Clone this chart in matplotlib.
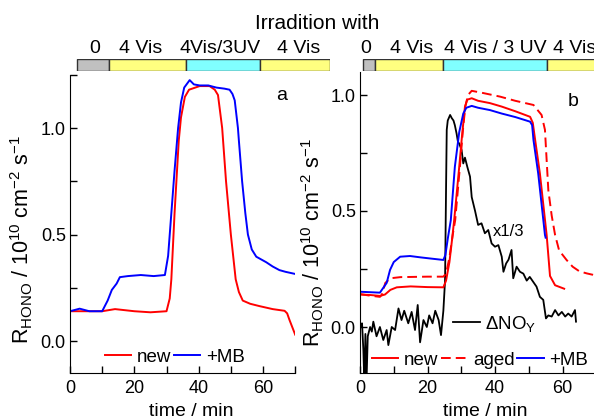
import matplotlib
matplotlib.use('Agg')
import matplotlib.pyplot as plt

plt.rcParams['font.family'] = ['Liberation Sans', 'DejaVu Sans']
plt.rcParams['mathtext.fontset'] = 'custom'
plt.rcParams['mathtext.rm'] = 'Liberation Sans'
plt.rcParams['mathtext.it'] = 'Liberation Sans:italic'

# panel a: HONO formation, new film vs +MB
a_new_t = [0, 5, 10, 14, 20, 25, 30, 31, 31.5, 32.5, 33.8, 34.5, 35.7, 37, 40.3, 43.4, 45, 46,
           47.3, 48.5, 50, 51.5, 52.5, 53.7, 56, 58.9, 63, 66.7, 67.5, 68.2, 70]
a_new_v = [0.14, 0.14, 0.14, 0.15, 0.14, 0.135, 0.14, 0.2, 0.29, 0.6, 0.94, 1.05, 1.146, 1.18, 1.197,
           1.197, 1.18, 1.155, 1.0, 0.75, 0.5, 0.29, 0.23, 0.19, 0.175, 0.164, 0.15, 0.142, 0.13, 0.1, 0.03]
a_mb_t = [0, 3, 6, 10, 11.7, 13, 14.5, 15.5, 18, 22, 26, 29.5, 30.5, 31.5, 32.5, 33.6, 34.5, 35.5,
          37.2, 38.5, 40.3, 43, 45.5, 48, 49.6, 50.5, 51.2, 52.2, 52.5, 53.5, 54.5, 55.3, 56.5,
          57.9, 61, 63, 65.1, 67, 70]
a_mb_v = [0.14, 0.152, 0.14, 0.14, 0.19, 0.24, 0.27, 0.30, 0.305, 0.31, 0.305, 0.31, 0.4, 0.6, 0.8,
          1.0, 1.12, 1.19, 1.225, 1.205, 1.2, 1.2, 1.19, 1.185, 1.18, 1.16, 1.13, 1.0, 0.94, 0.75,
          0.6, 0.5, 0.43, 0.396, 0.37, 0.35, 0.333, 0.325, 0.315]

# panel b: new, aged, +MB and delta NOy (x1/3)
b_new_t = [0, 3, 5.9, 7.4, 9, 10.9, 15, 20, 24.7, 25.5, 26.5, 27.3, 27.9, 29.4, 30.2, 31.1, 31.8,
           33.1, 35, 38.5, 42, 46, 50.4, 51.2, 51.9, 53.3, 55.3, 56.3, 57.8, 60.5]
b_new_v = [0.14, 0.138, 0.134, 0.14, 0.16, 0.171, 0.175, 0.172, 0.171, 0.2, 0.28, 0.38, 0.46, 0.69,
           0.82, 0.95, 0.98, 0.986, 0.975, 0.965, 0.95, 0.93, 0.906, 0.88, 0.806, 0.662, 0.397,
           0.22, 0.18, 0.165]
b_aged_t = [0, 3, 5.9, 6.5, 7.5, 9, 12, 20, 24.7, 25.5, 26.5, 27.5, 28.2, 29.6, 30.5, 31.2, 32,
            33.1, 36, 41.5, 46, 51.4, 53.8, 54.8, 55.3, 55.8, 56.8, 57.8, 59, 61.2, 63, 65,
            67.2, 69, 70]
b_aged_v = [0.142, 0.135, 0.13, 0.14, 0.19, 0.21, 0.215, 0.217, 0.217, 0.23, 0.3, 0.4, 0.46, 0.69,
            0.85, 0.95, 1.0, 1.018, 1.01, 0.993, 0.975, 0.957, 0.914, 0.85, 0.72, 0.59, 0.48,
            0.397, 0.33, 0.289, 0.26, 0.24, 0.231, 0.225, 0.22]
b_mb_t = [0, 3, 5.9, 7.9, 8.9, 10, 11.9, 14.8, 18, 21, 24.7, 25.3, 26, 26.9, 28.1, 29.4, 30.6,
          31.5, 33.1, 35, 38.5, 42, 46, 50.4, 51, 51.4, 52.8, 54.8, 55]
b_mb_v = [0.152, 0.15, 0.148, 0.19, 0.246, 0.28, 0.303, 0.306, 0.3, 0.295, 0.289, 0.31, 0.38,
          0.46, 0.69, 0.84, 0.92, 0.945, 0.953, 0.945, 0.935, 0.92, 0.905, 0.885, 0.87, 0.806,
          0.662, 0.397, 0.385]
nox_t = [0.3, 0.6, 1.0, 1.3, 1.6, 1.9, 2.3, 3.0, 3.5, 3.95, 4.9, 5.9, 6.9, 7.9, 8.4, 9.4, 10.4,
         11.4, 12.3, 13.1, 14.3, 15.3, 16.3, 17.1, 17.8, 18.8, 19.8, 20.5, 21.5, 22.3, 23.3, 24.0,
         24.7, 25.2, 25.5, 25.7, 26.0, 26.7, 27.2, 27.7, 28.1, 28.6, 29.0, 29.4, 30.1, 30.6, 31.1,
         31.8, 32.6, 33.1, 34.1, 35.0, 36.0, 37.0, 38.0, 39.0, 40.0, 41.0, 42.0, 42.5, 43.3, 44.0,
         44.9, 45.4, 46.4, 47.4, 48.4, 49.4, 50.3, 51.3, 52.3, 53.3, 54.3, 55.1, 55.8, 56.8, 57.8,
         58.8, 59.8, 60.8, 61.7, 62.7, 63.7, 64.0]
nox_v = [0.0, 0.016, -0.1, -0.25, -0.03, -0.25, -0.04, 0.0, -0.02, 0.023, -0.04, 0.0, -0.056,
         -0.013, -0.078, 0.0, -0.013, 0.08, 0.03, 0.07, 0.016, 0.065, -0.013, 0.095, -0.066, 0.03,
         0.0, 0.05, 0.016, 0.07, 0.03, -0.035, 0.07, 0.2, 0.6, 0.85, 0.89, 0.914, 0.9, 0.89, 0.87,
         0.835, 0.8, 0.79, 0.763, 0.705, 0.73, 0.69, 0.648, 0.56, 0.5, 0.44, 0.447, 0.404, 0.418,
         0.36, 0.346, 0.353, 0.303, 0.238, 0.274, 0.29, 0.332, 0.21, 0.26, 0.238, 0.23, 0.2, 0.216,
         0.195, 0.174, 0.13, 0.117, 0.037, 0.05, 0.045, 0.073, 0.05, 0.065, 0.045, 0.058, 0.045,
         0.073, 0.023]

# irradiation bars (segment edges in minutes of each bar's own scale)
bar_colors = ['#c0c0c0', '#ffff80', '#80ffff', '#ffff80']
bar_a_edges = [2.2, 12.1, 36.1, 59.1, 80.8]
bar_a_labels = ['0', '4 Vis', '4Vis/3UV', '4 Vis']
bar_a_label_x = [7.8, 21.8, 46.6, 71.2]
bar_b_edges = [0.9, 4.4, 24.6, 55.4, 75]
bar_b_labels = ['0', '4 Vis', '4 Vis / 3 UV', '4 Vis']
bar_b_label_x = [1.8, 15.4, 40.0, 63.6]

W, H = 594, 418
fig = plt.figure(figsize=(W / 100, H / 100), dpi=100)

ax_a = fig.add_axes([70 / W, 1 - 373 / H, 225.2 / W, 298.2 / H])
ax_b = fig.add_axes([360 / W, 1 - 373.4 / H, 236.25 / W, 301.6 / H])

lw = 1.4
ax_a.plot(a_new_t, a_new_v, color='#ff0000', lw=lw, label='new')
ax_a.plot(a_mb_t, a_mb_v, color='#0000ff', lw=lw, label='+MB')

l_nox, = ax_b.plot(nox_t, nox_v, color='black', lw=1.3, label=r'$\Delta$NO$_\mathrm{Y}$')
ax_b.plot(b_new_t, b_new_v, color='#ff0000', lw=lw, label='new')
ax_b.plot(b_aged_t, b_aged_v, color='#ff0000', lw=lw, dashes=(5, 2.6), label='aged')
ax_b.plot(b_mb_t, b_mb_v, color='#0000ff', lw=lw, label='+MB')

for ax in (ax_a, ax_b):
    ax.spines['top'].set_visible(False)
    ax.spines['right'].set_visible(False)
    ax.set_xticks([0, 20, 40, 60])
    ax.set_xticks([10, 30, 50, 70], minor=True)
    ax.set_yticks([0.0, 0.5, 1.0])
    ax.set_yticklabels(['0.0', '0.5', '1.0'])
    ax.tick_params(which='both', direction='in', length=5, width=1, labelsize=13)
    ax.tick_params(axis='x', pad=5)
    ax.tick_params(axis='y', pad=3)
    ax.patch.set_alpha(0)
ax_a.set_yticks([0.25, 0.75, 1.25], minor=True)
ax_b.set_yticks([0.25, 0.75], minor=True)

ax_a.set_xlim(0, 70)
ax_a.set_ylim(-0.15, 1.25)
ax_b.set_xlim(0, 70)
ax_b.set_ylim(-0.2, 1.1)

ylab = r'R$_\mathrm{HONO}$ / 10$^{10}$ cm$^{-2}$ s$^{-1}$'
fig.text(22 / W, 1 - 240 / H, ylab, rotation=90, ha='center', va='center', fontsize=15.5)
fig.text(313 / W, 1 - 243 / H, ylab, rotation=90, ha='center', va='center', fontsize=15.5)
fig.text(191 / W, 1 - 416 / H, 'time / min', ha='center', va='baseline', fontsize=14)
fig.text(485 / W, 1 - 416 / H, 'time / min', ha='center', va='baseline', fontsize=14)

fig.text(282 / W, 1 - 95 / H, 'a', ha='center', va='center', fontsize=14)
fig.text(573 / W, 1 - 101 / H, 'b', ha='center', va='center', fontsize=14)
ax_b.text(44, 0.41, 'x1/3', ha='center', va='center', fontsize=12)

leg_kw = dict(frameon=False, handlelength=1.4, handletextpad=0.3, columnspacing=0.15,
              borderpad=0, fontsize=13.5, loc='center', bbox_transform=fig.transFigure)
leg_a = ax_a.legend(ncol=2, bbox_to_anchor=(175 / W, 1 - 357 / H), **leg_kw)
h, l = ax_b.get_legend_handles_labels()
leg_b = ax_b.legend(h[1:], l[1:], ncol=3, bbox_to_anchor=(480 / W, 1 - 360 / H), **leg_kw)
ax_b.add_artist(leg_b)
ax_b.legend([l_nox], [l[0]], bbox_to_anchor=(495 / W, 1 - 324 / H), **leg_kw)

# irradiation bars
def draw_bar(rect, xlim, edges, labels, label_x):
    bax = fig.add_axes(rect)
    starts = edges[:-1]
    widths = [e2 - e1 for e1, e2 in zip(edges[:-1], edges[1:])]
    bax.barh(0, widths, left=starts, height=1, color=bar_colors,
             edgecolor='#333333', linewidth=1)
    bax.set_xlim(*xlim)
    bax.set_ylim(-0.5, 0.5)
    bax.axis('off')
    for x, s in zip(label_x, labels):
        fig.text(rect[0] + (x - xlim[0]) / (xlim[1] - xlim[0]) * rect[2], 1 - 52.7 / H, s,
                 ha='center', va='baseline', fontsize=14)

bar_h = 12.5 / H
draw_bar([70 / W, 1 - 71.3 / H, 260 / W, bar_h], (0, 260 / 3.217),
         bar_a_edges, bar_a_labels, bar_a_label_x)
draw_bar([360 / W, 1 - 71.3 / H, 236.25 / W, bar_h], (0, 70),
         bar_b_edges, bar_b_labels, bar_b_label_x)

fig.text(317 / W, 1 - 29 / H, 'Irradition with', ha='center', va='baseline', fontsize=15)

fig.savefig('out.png', dpi=100)
